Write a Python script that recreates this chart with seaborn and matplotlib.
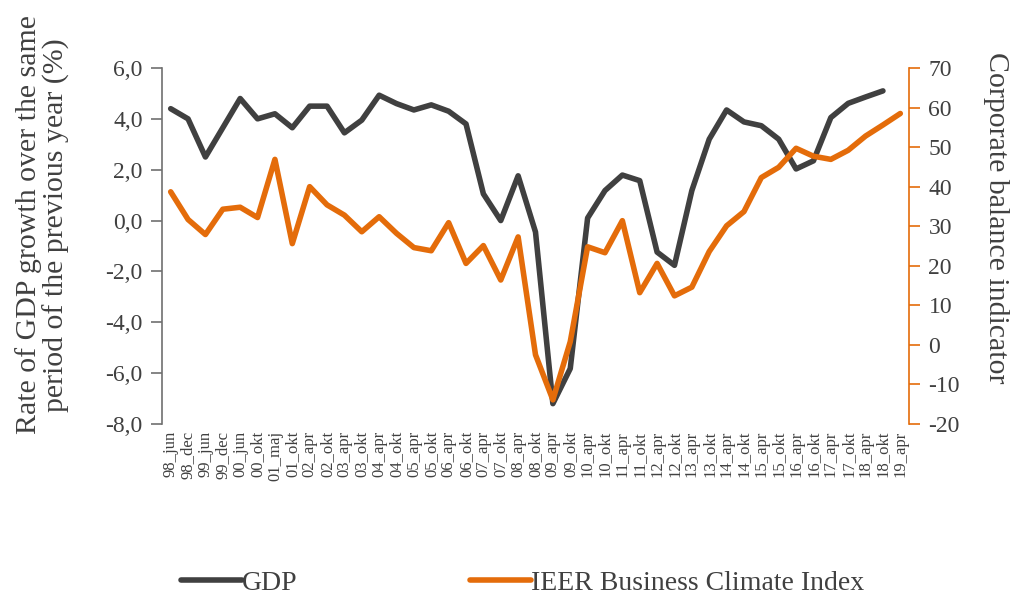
import matplotlib
matplotlib.use("Agg")
import matplotlib.pyplot as plt
from matplotlib.ticker import FuncFormatter, MultipleLocator
import seaborn as sns
import numpy as np
import pandas as pd

periods = ["98_jun", "98_dec", "99_jun", "99_dec", "00_jun", "00_okt", "01_maj", "01_okt",
           "02_apr", "02_okt", "03_apr", "03_okt", "04_apr", "04_okt", "05_apr", "05_okt",
           "06_apr", "06_okt", "07_apr", "07_okt", "08_apr", "08_okt", "09_apr", "09_okt",
           "10_apr", "10_okt", "11_apr", "11_okt", "12_apr", "12_okt", "13_apr", "13_okt",
           "14_apr", "14_okt", "15_apr", "15_okt", "16_apr", "16_okt", "17_apr", "17_okt",
           "18_apr", "18_okt", "19_apr"]

gdp = [4.4, 4.0, 2.5, 3.65, 4.8, 4.0, 4.2, 3.65, 4.5, 4.5, 3.45, 3.95, 4.93, 4.6, 4.35,
       4.55, 4.3, 3.8, 1.05, 0.0, 1.76, -0.45, -7.2, -5.82, 0.1, 1.18, 1.79, 1.57, -1.24,
       -1.76, 1.18, 3.2, 4.35, 3.88, 3.73, 3.2, 2.03, 2.35, 4.05, 4.61, 4.86, 5.1, np.nan]

ieer = [38.7, 31.7, 27.9, 34.3, 34.8, 32.2, 46.9, 25.6, 40.0, 35.4, 32.8, 28.6, 32.4, 28.2,
        24.6, 23.8, 30.9, 20.6, 25.1, 16.4, 27.3, -2.5, -13.9, 0.8, 24.8, 23.3, 31.4, 13.2,
        20.6, 12.4, 14.6, 23.6, 30.1, 33.7, 42.3, 44.9, 49.7, 47.7, 46.9, 49.2, 52.8, 55.6, 58.5]

df = pd.DataFrame({"pos": np.arange(len(periods)), "period": periods, "GDP": gdp, "IEER": ieer})

sns.set_theme(style="white")
plt.rcParams["font.family"] = ["Liberation Serif", "DejaVu Serif"]

text_c = "#404040"
gdp_c = "#404040"
org_c = "#E46C0A"

fig = plt.figure(figsize=(10.17, 5.94), dpi=100)
ax = fig.add_axes([162/1017, 1-424/594, (909-162)/1017, (424-68)/594])
ax2 = ax.twinx()

sns.lineplot(data=df, x="pos", y="GDP", ax=ax, color=gdp_c, linewidth=4.0, label="GDP", legend=False)
sns.lineplot(data=df, x="pos", y="IEER", ax=ax2, color=org_c, linewidth=4.0,
             label="IEER Business Climate Index", legend=False)

ax.set_xlim(-0.5, len(periods) - 0.5)
ax.set_ylim(-8, 6)
ax2.set_ylim(-20, 70)
ax.yaxis.set_major_locator(MultipleLocator(2))
ax2.yaxis.set_major_locator(MultipleLocator(10))
ax.yaxis.set_major_formatter(FuncFormatter(lambda v, p: f"{v:.1f}".replace(".", ",")))
ax2.yaxis.set_major_formatter(FuncFormatter(lambda v, p: f"{v:.0f}"))

ax.set_xticks(df["pos"])
ax.set_xticklabels(periods, rotation=90, fontsize=12, color=text_c)
ax.tick_params(axis="x", length=0, pad=5)
ax.set_xlabel("")

for s in ["top", "right", "bottom"]:
    ax.spines[s].set_visible(False)
for s in ["top", "left", "bottom"]:
    ax2.spines[s].set_visible(False)
ax.spines["left"].set_color("#707070")
ax.spines["left"].set_linewidth(1.2)
ax2.spines["right"].set_color(org_c)
ax2.spines["right"].set_linewidth(1.2)

ax.tick_params(axis="y", direction="out", length=8, width=1.2, color="#707070",
               labelsize=17, labelcolor=text_c, pad=6, left=True)
ax2.tick_params(axis="y", direction="out", length=8, width=1.2, color=org_c,
                labelsize=17, labelcolor=text_c, pad=6, right=True)

ax.set_ylabel("Rate of GDP growth over the same\nperiod of the previous year (%)",
              fontsize=21.5, color=text_c, linespacing=1.05)
ax.yaxis.set_label_coords(-0.123, 0.559)
ax2.set_ylabel("Corporate balance indicator", fontsize=21.5, color=text_c, rotation=270,
               va="bottom")
ax2.yaxis.set_label_coords(1.099, 0.579)

h1, l1 = ax.get_legend_handles_labels()
h2, l2 = ax2.get_legend_handles_labels()
fig.legend(h1 + h2, l1 + l2, loc="center left", bbox_to_anchor=(156/1017, 1-583/594),
           ncol=2, frameon=False, fontsize=20, handlelength=2.2, handletextpad=0.0,
           columnspacing=6.2, labelcolor=text_c)

fig.savefig("out.png", dpi=100, facecolor="white")
